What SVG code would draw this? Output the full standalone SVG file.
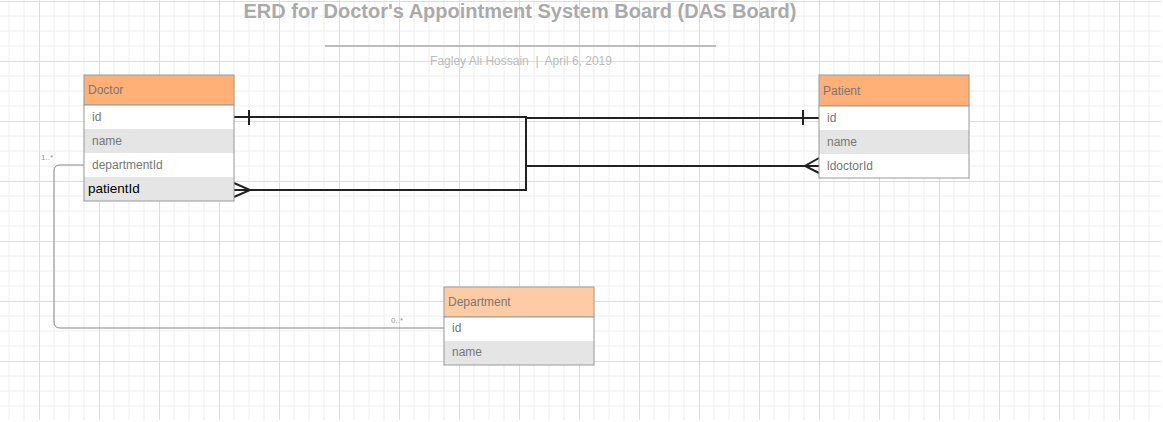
<svg xmlns="http://www.w3.org/2000/svg" width="1163" height="422" viewBox="0 0 1163 422">
<style>
.hdr{font-family:"Liberation Sans",Arial,sans-serif;font-size:12px;fill:#777}
.fld{font-family:"Liberation Sans",Arial,sans-serif;font-size:12px;fill:#777}
.box{stroke:#999;stroke-width:1}
.rel{fill:none;stroke:#222;stroke-width:2}
.thin{fill:none;stroke:#888;stroke-width:1}
.card{font-family:"Liberation Sans",Arial,sans-serif;font-size:8px;fill:#999}
</style>
<defs>
<pattern id="grid" x="-21" y="1" width="60" height="60" patternUnits="userSpaceOnUse">
<path d="M15 0V60M30 0V60M45 0V60M0 15H60M0 30H60M0 45H60" stroke="#eeeeee" stroke-width="1" fill="none"/>
<path d="M0.5 0V60M0 0.5H60" stroke="#dddddd" stroke-width="1" fill="none"/>
</pattern>
</defs>
<rect width="1163" height="422" fill="#fff"/>
<rect x="0" y="0" width="1161" height="420" fill="url(#grid)"/>
<g id="title">
<text x="520" y="18" text-anchor="middle" font-family="'Liberation Sans',Arial,sans-serif" font-size="20" font-weight="bold" fill="#aaaaaa">ERD for Doctor's Appointment System Board (DAS Board)</text>
<line x1="325" y1="46" x2="716" y2="46" stroke="#aaaaaa" stroke-width="1.5"/>
<text x="521" y="65" text-anchor="middle" font-family="'Liberation Sans',Arial,sans-serif" font-size="12" fill="#bbbbbb" xml:space="preserve">Fagley Ali Hossain  |  April 6, 2019</text>
</g>
<g id="connectors">
<path class="rel" d="M234 117H526V118H819"/>
<path class="rel" d="M526 117V190H234"/>
<path class="rel" d="M526 166H819"/>
<path class="rel" d="M249 110V125M803 110V125"/>
<path class="rel" d="M234 183L250 190L234 197"/>
<path class="rel" d="M819 158L805 166L819 173"/>
<path class="thin" d="M84 165H60Q54 165 54 171V322Q54 328 60 328H444"/>
<text class="card" x="41" y="160">1..*</text>
<text class="card" x="391" y="323">0..*</text>
</g>
<g id="doctor">
<rect class="box" x="84" y="75" width="150" height="30" fill="#ffb077"/>
<rect x="84" y="105" width="150" height="24" fill="#fff"/>
<rect x="84" y="129" width="150" height="24" fill="#e5e5e5"/>
<rect x="84" y="153" width="150" height="24" fill="#fff"/>
<rect x="84" y="177" width="150" height="24" fill="#e5e5e5"/>
<rect class="box" x="84" y="105" width="150" height="96" fill="none"/>
<text class="hdr" x="88" y="94">Doctor</text>
<text class="fld" x="92" y="121">id</text>
<text class="fld" x="92" y="145">name</text>
<text class="fld" x="92" y="169">departmentId</text>
<text x="88" y="193" font-family="'Liberation Sans',Arial,sans-serif" font-size="13.5" fill="#000">patientId</text>
</g>
<g id="patient">
<rect class="box" x="819" y="75" width="150" height="31" fill="#ffb077"/>
<rect x="819" y="106" width="150" height="24" fill="#fff"/>
<rect x="819" y="130" width="150" height="24" fill="#e5e5e5"/>
<rect x="819" y="154" width="150" height="24" fill="#fff"/>
<rect class="box" x="819" y="106" width="150" height="72" fill="none"/>
<text class="hdr" x="823" y="95">Patient</text>
<text class="fld" x="827" y="122">id</text>
<text class="fld" x="827" y="146">name</text>
<text class="fld" x="827" y="170">ldoctorId</text>
</g>
<g id="department">
<rect class="box" x="444" y="287" width="150" height="30" fill="#ffcba4"/>
<rect x="444" y="317" width="150" height="24" fill="#fff"/>
<rect x="444" y="341" width="150" height="24" fill="#e5e5e5"/>
<rect class="box" x="444" y="317" width="150" height="48" fill="none"/>
<text class="hdr" x="448" y="306">Department</text>
<text class="fld" x="452" y="332">id</text>
<text class="fld" x="452" y="356">name</text>
</g>
</svg>
